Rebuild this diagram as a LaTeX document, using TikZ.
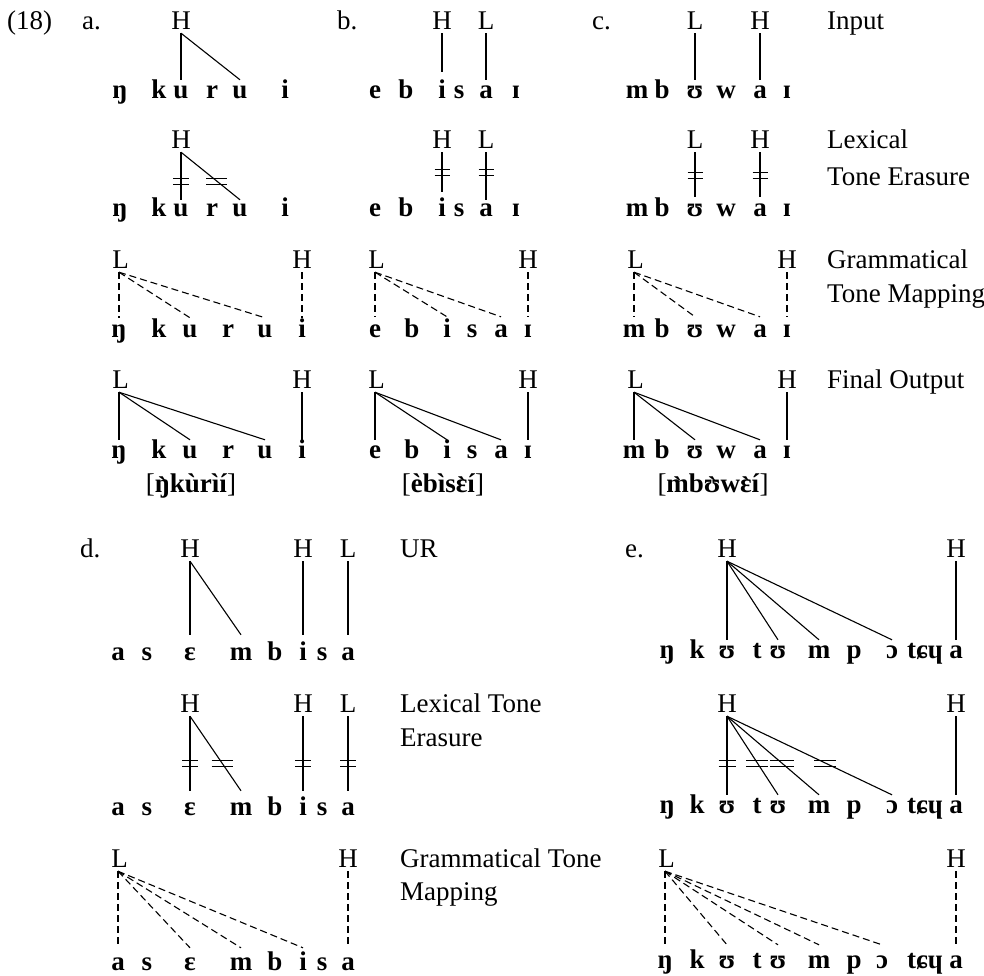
\documentclass[tikz,border=0pt]{standalone}
\usepackage{fontspec}
\setmainfont{Liberation Serif}
\newfontfamily\accfont{Liberation Serif}
\usetikzlibrary{calc}
\newcommand{\mktone}[5][0]{\node[tone] (#2) at (#3,#4) {#5};
  \coordinate (#2p) at ([xshift=#1pt,yshift=-4pt]#2.south);}
\newcommand{\mksegs}[3]{\foreach \xx/\lab/\nm/\hh in {#3} {\node[seg, text height=\hh pt] (#1\nm) at (\xx,#2) {\lab};}}
\newcommand{\mkcut}[4]{\coordinate (cp) at (intersection cs: first line={(#1)--(#2)}, second line={(0,#3)--(1000,#3)});
  \draw[bar] ([shift={(-#4,-3)}]cp) -- ([shift={(#4,-3)}]cp);
  \draw[bar] ([shift={(-#4,3)}]cp) -- ([shift={(#4,3)}]cp);}
\newcommand{\gravon}[1]{\ooalign{#1\cr\hidewidth\raisebox{-3pt}{\accfont\bfseries `}\hidewidth\cr}}
\begin{document}
\begin{tikzpicture}[x=1pt,y=-1pt,
  font=\fontsize{27}{32}\selectfont,
  tone/.style={anchor=base,inner sep=0pt},
  seg/.style={anchor=base,inner sep=0pt,font=\fontsize{27}{32}\selectfont\bfseries},
  lab/.style={anchor=base west,inner sep=0pt},
  lk/.style={line width=1.1pt},
  dl/.style={line width=1.1pt,dash pattern=on 7pt off 4pt},
  bar/.style={line width=0.9pt}]
\useasboundingbox (0,0) rectangle (984,975);
% ---------- labels
\node[lab] (n18) at (7,29) {(18)};
\node[lab] (la) at (82,29) {a.};
\node[lab] (lb) at (337,29) {b.};
\node[lab] (lc) at (592,29) {c.};
\node[lab] (lin) at (827,29) {Input};
\node[lab] (lte1) at (827,148) {Lexical};
\node[lab] (lte2) at (827,185) {Tone Erasure};
\node[lab] (lgm1) at (827,268) {Grammatical};
\node[lab] (lgm2) at (827,302) {Tone Mapping};
\node[lab] (lfo) at (827,388) {Final Output};
\node[lab] (ld) at (80,557) {d.};
\node[lab] (lur) at (400,557) {UR};
\node[lab] (ldte1) at (400,712) {Lexical Tone};
\node[lab] (ldte2) at (400,746) {Erasure};
\node[lab] (ldgm1) at (400,867) {Grammatical Tone};
\node[lab] (ldgm2) at (400,900) {Mapping};
\node[lab] (le) at (625,557) {e.};
% ================= a
\mktone{a1H}{181}{29}{H}
\mksegs{a1}{98}{120/ŋ/n/18, 159/k/k/18, 181/u/u/18, 212/r/r/18, 240/u/v/18, 285/i/i/18}
\draw[lk] (a1Hp) -- (a1u.north);
\draw[lk] (a1Hp) -- (a1v.north);
\mktone{a2H}{181}{148}{H}
\mksegs{a2}{216}{120/ŋ/n/16, 159/k/k/16, 181/u/u/16, 212/r/r/16, 240/u/v/16, 285/i/i/16}
\draw[lk] (a2Hp) -- (a2u.north);
\draw[lk] (a2Hp) -- (a2v.north);
\mkcut{a2Hp}{a2u.north}{181}{8}
\mkcut{a2Hp}{a2v.north}{181}{10.5}
\mktone[-1.5]{a3L}{120.5}{268}{L}
\mktone{a3H}{302}{268}{H}
\mksegs{a3}{337}{119/ŋ/n/19, 159/k/k/19, 190/u/u/19, 228/r/r/19, 265/u/v/19, 302/i/i/19}
\draw[dl] (a3Lp) -- (a3n.north);
\draw[dl] (a3Lp) -- (a3u.north);
\draw[dl] (a3Lp) -- (a3v.north);
\draw[dl] (a3Hp) -- (a3i.north);
\mktone[-1.5]{a4L}{120.5}{388}{L}
\mktone{a4H}{302}{388}{H}
\mksegs{a4}{458}{119/ŋ/n/18, 159/k/k/18, 190/u/u/18, 228/r/r/18, 265/u/v/18, 302/i/i/18}
\draw[lk] (a4Lp) -- (a4n.north);
\draw[lk] (a4Lp) -- (a4u.north);
\draw[lk] (a4Lp) -- (a4v.north);
\draw[lk] (a4Hp) -- (a4i.north);
\node[tone] (atr) at (191,492) {[\textbf{\gravon{ŋ}kùrìí}]};
% ================= b
\mktone{b1H}{442}{29}{H}
\mktone{b1L}{486}{29}{L}
\mksegs{b1}{98}{375/e/e/18, 406/b/b/18, 442/i/i/26, 459/s/s/18, 486/a/a/18, 516/ɪ/I/18}
\draw[lk] (b1Hp) -- (b1i.north);
\draw[lk] (b1Lp) -- (b1a.north);
\mktone{b2H}{442}{148}{H}
\mktone{b2L}{486}{148}{L}
\mksegs{b2}{216}{375/e/e/16, 406/b/b/16, 442/i/i/24, 459/s/s/16, 486/a/a/16, 516/ɪ/I/16}
\draw[lk] (b2Hp) -- (b2i.north);
\draw[lk] (b2Lp) -- (b2a.north);
\mkcut{b2Hp}{b2i.north}{172}{7.5}
\mkcut{b2Lp}{b2a.north}{172}{7.5}
\mktone[-1.5]{b3L}{376.5}{268}{L}
\mktone{b3H}{528}{268}{H}
\mksegs{b3}{337}{375/e/e/20, 412/b/b/20, 447/i/i/20, 472/s/s/20, 501/a/a/20, 528/ɪ/I/20}
\draw[dl] (b3Lp) -- (b3e.north);
\draw[dl] (b3Lp) -- (b3i.north);
\draw[dl] (b3Lp) -- (b3a.north);
\draw[dl] (b3Hp) -- (b3I.north);
\mktone[-1.5]{b4L}{376.5}{388}{L}
\mktone{b4H}{528}{388}{H}
\mksegs{b4}{458}{375/e/e/18, 412/b/b/18, 447/i/i/18, 472/s/s/18, 501/a/a/18, 528/ɪ/I/18}
\draw[lk] (b4Lp) -- (b4e.north);
\draw[lk] (b4Lp) -- (b4i.north);
\draw[lk] (b4Lp) -- (b4a.north);
\draw[lk] (b4Hp) -- (b4I.north);
\node[tone] (btr) at (443,492) {[\textbf{èbìs\gravon{ɛ}í}]};
% ================= c
\mktone{c1L}{695}{29}{L}
\mktone{c1H}{760}{29}{H}
\mksegs{c1}{98}{637/m/m/18, 662/b/b/18, 695/ʊ/U/18, 726/w/w/18, 760/a/a/18, 787/ɪ/I/18}
\draw[lk] (c1Lp) -- (c1U.north);
\draw[lk] (c1Hp) -- (c1a.north);
\mktone{c2L}{695}{148}{L}
\mktone{c2H}{760}{148}{H}
\mksegs{c2}{216}{637/m/m/19, 662/b/b/19, 695/ʊ/U/19, 726/w/w/19, 760/a/a/19, 787/ɪ/I/19}
\draw[lk] (c2Lp) -- (c2U.north);
\draw[lk] (c2Hp) -- (c2a.north);
\mkcut{c2Lp}{c2U.north}{175}{7.5}
\mkcut{c2Hp}{c2a.north}{175}{7.5}
\mktone[-1.5]{c3L}{635.5}{268}{L}
\mktone{c3H}{787}{268}{H}
\mksegs{c3}{337}{634/m/m/20, 662/b/b/20, 695/ʊ/U/20, 726/w/w/20, 760/a/a/20, 787/ɪ/I/20}
\draw[dl] (c3Lp) -- (c3m.north);
\draw[dl] (c3Lp) -- (c3U.north);
\draw[dl] (c3Lp) -- (c3a.north);
\draw[dl] (c3Hp) -- (c3I.north);
\mktone[-1.5]{c4L}{635.5}{388}{L}
\mktone{c4H}{787}{388}{H}
\mksegs{c4}{458}{634/m/m/18, 662/b/b/18, 695/ʊ/U/18, 726/w/w/18, 760/a/a/18, 787/ɪ/I/18}
\draw[lk] (c4Lp) -- (c4m.north);
\draw[lk] (c4Lp) -- (c4U.north);
\draw[lk] (c4Lp) -- (c4a.north);
\draw[lk] (c4Hp) -- (c4I.north);
\node[tone] (ctr) at (713,492) {[\textbf{\gravon{m}b\gravon{ʊ}w\gravon{ɛ}í}]};
% ================= d
\mktone{d1H}{190}{557}{H}
\mktone{d1G}{303}{557}{H}
\mktone{d1L}{348}{557}{L}
\mksegs{d1}{660}{118/a/a/25, 147/s/s/25, 190/ɛ/E/25, 241/m/m/25, 275/b/b/25, 303/i/i/25, 322/s/t/25, 348/a/A/25}
\draw[lk] (d1Hp) -- (d1E.north);
\draw[lk] (d1Hp) -- (d1m.north);
\draw[lk] (d1Gp) -- (d1i.north);
\draw[lk] (d1Lp) -- (d1A.north);
\mktone{d2H}{190}{712}{H}
\mktone{d2G}{303}{712}{H}
\mktone{d2L}{348}{712}{L}
\mksegs{d2}{815}{118/a/a/24, 147/s/s/24, 190/ɛ/E/24, 241/m/m/24, 275/b/b/24, 303/i/i/24, 322/s/t/24, 348/a/A/24}
\draw[lk] (d2Hp) -- (d2E.north);
\draw[lk] (d2Hp) -- (d2m.north);
\draw[lk] (d2Gp) -- (d2i.north);
\draw[lk] (d2Lp) -- (d2A.north);
\mkcut{d2Hp}{d2E.north}{763}{8}
\mkcut{d2Hp}{d2m.north}{763}{10.5}
\mkcut{d2Gp}{d2i.north}{763}{8}
\mkcut{d2Lp}{d2A.north}{763}{8}
\mktone[-1.5]{d3L}{119.5}{867}{L}
\mktone{d3H}{348}{867}{H}
\mksegs{d3}{970}{118/a/a/22, 147/s/s/22, 190/ɛ/E/22, 241/m/m/22, 275/b/b/22, 303/i/i/22, 322/s/t/22, 348/a/A/22}
\draw[dl] (d3Lp) -- (d3a.north);
\draw[dl] (d3Lp) -- (d3E.north);
\draw[dl] (d3Lp) -- (d3m.north);
\draw[dl] (d3Lp) -- (d3i.north);
\draw[dl] (d3Hp) -- (d3A.north);
% ================= e
\mktone{e1H}{727}{557}{H}
\mktone{e1G}{956}{557}{H}
\mksegs{e1}{658}{667/ŋ/n/18, 697/k/k/18, 727/ʊ/U/18, 757/t/t/18, 778/ʊ/V/18, 819/m/m/18, 854/p/p/18, 892/ɔ/O/18, 925/tɕɥ/c/18, 956/a/a/18}
\draw[lk] (e1Hp) -- (e1U.north);
\draw[lk] (e1Hp) -- (e1V.north);
\draw[lk] (e1Hp) -- (e1m.north);
\draw[lk] (e1Hp) -- (e1O.north);
\draw[lk] (e1Gp) -- (e1a.north);
\mktone{e2H}{727}{712}{H}
\mktone{e2G}{956}{712}{H}
\mksegs{e2}{813}{667/ŋ/n/18, 697/k/k/18, 727/ʊ/U/18, 757/t/t/18, 778/ʊ/V/18, 819/m/m/18, 854/p/p/18, 892/ɔ/O/18, 925/tɕɥ/c/18, 956/a/a/18}
\draw[lk] (e2Hp) -- (e2U.north);
\draw[lk] (e2Hp) -- (e2V.north);
\draw[lk] (e2Hp) -- (e2m.north);
\draw[lk] (e2Hp) -- (e2O.north);
\draw[lk] (e2Gp) -- (e2a.north);
\mkcut{e2Hp}{e2U.north}{763}{8.5}
\mkcut{e2Hp}{e2V.north}{763}{11}
\mkcut{e2Hp}{e2m.north}{763}{12}
\mkcut{e2Hp}{e2O.north}{763}{11}
\mktone[-1.5]{e3L}{666.5}{867}{L}
\mktone{e3H}{956}{867}{H}
\mksegs{e3}{968}{665/ŋ/n/23, 697/k/k/23, 727/ʊ/U/23, 757/t/t/23, 778/ʊ/V/23, 819/m/m/23, 854/p/p/23, 882/ɔ/O/23, 925/tɕɥ/c/23, 956/a/a/23}
\draw[dl] (e3Lp) -- (e3n.north);
\draw[dl] (e3Lp) -- (e3U.north);
\draw[dl] (e3Lp) -- (e3V.north);
\draw[dl] (e3Lp) -- (e3m.north);
\draw[dl] (e3Lp) -- (e3O.north);
\draw[dl] (e3Hp) -- (e3a.north);
\end{tikzpicture}
\end{document}
